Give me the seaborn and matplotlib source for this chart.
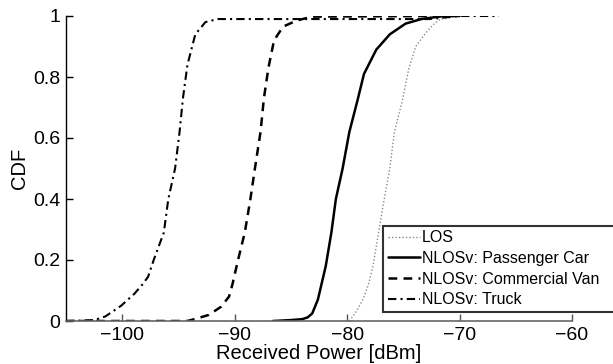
import matplotlib
matplotlib.use("Agg")
import matplotlib.pyplot as plt
import seaborn as sns
import pandas as pd

# ---- data ----
los_x = [-79.8, -79.2, -78.6, -78.1, -77.7, -77.2, -76.7, -76.2, -75.8, -75.1, -74.5, -73.9, -73.1, -72.4, -71.7, -70.8, -70.0]
los_y = [0.0, 0.03, 0.07, 0.12, 0.18, 0.29, 0.40, 0.50, 0.62, 0.72, 0.83, 0.90, 0.94, 0.97, 0.99, 0.995, 1.0]

car_x = [-86.6, -85.0, -84.0, -83.5, -83.1, -82.6, -81.9, -81.4, -81.0, -80.4, -79.8, -79.1, -78.5, -77.4, -76.2, -74.8, -73.4, -71.4, -70.0]
car_y = [0.0, 0.003, 0.006, 0.012, 0.025, 0.07, 0.18, 0.29, 0.40, 0.50, 0.62, 0.72, 0.81, 0.89, 0.94, 0.975, 0.99, 1.0, 1.0]

van_x = [-105.0, -94.2, -93.2, -92.3, -91.2, -90.5, -90.2, -89.7, -89.1, -88.6, -88.2, -87.7, -87.4, -87.0, -86.5, -85.7, -84.5, -83.1, -72.0]
van_y = [0.0, 0.0, 0.01, 0.02, 0.047, 0.08, 0.12, 0.20, 0.29, 0.40, 0.50, 0.62, 0.73, 0.83, 0.92, 0.965, 0.985, 0.998, 1.0]

truck_x = [-105.0, -102.5, -101.5, -100.1, -98.9, -98.2, -97.7, -97.2, -96.3, -95.9, -95.3, -94.9, -94.6, -94.2, -93.5, -92.6, -91.5, -72.7, -70.0, -66.5]
truck_y = [0.0, 0.003, 0.015, 0.05, 0.09, 0.12, 0.145, 0.20, 0.29, 0.40, 0.50, 0.62, 0.73, 0.84, 0.94, 0.98, 0.99, 0.99, 1.0, 1.0]

series_names = ["LOS", "NLOSv: Passenger Car", "NLOSv: Commercial Van", "NLOSv: Truck"]
x_ticks = [-100, -90, -80, -70, -60]
y_ticks = [0, 0.2, 0.4, 0.6, 0.8, 1]
y_tick_labels = ["0", "0.2", "0.4", "0.6", "0.8", "1"]

frames = []
for name, xs, ys in zip(series_names, [los_x, car_x, van_x, truck_x], [los_y, car_y, van_y, truck_y]):
    frames.append(pd.DataFrame({"power": xs, "cdf": ys, "series": name}))
df = pd.concat(frames, ignore_index=True)

sns.set_theme(style="white")
plt.rcParams["font.family"] = ["Liberation Sans", "DejaVu Sans"]

fig = plt.figure(figsize=(6.13, 3.64), dpi=100)
ax = fig.add_axes([66 / 613, 1 - 321 / 364, (572 - 66) / 613, (321 - 16) / 364])

styles = {
    "LOS": dict(color="#8a8a8a", lw=1.0, ls=(0, (1, 1.5))),
    "NLOSv: Passenger Car": dict(color="black", lw=1.8, ls="-"),
    "NLOSv: Commercial Van": dict(color="black", lw=1.8, ls=(0, (3.5, 2.5))),
    "NLOSv: Truck": dict(color="black", lw=1.5, ls=(0, (4, 2, 1, 2))),
}
for name in series_names:
    sub = df[df["series"] == name]
    st = styles[name]
    sns.lineplot(data=sub, x="power", y="cdf", ax=ax, estimator=None, sort=False,
                 color=st["color"], linewidth=st["lw"], linestyle=st["ls"], label=name)

ax.set_xlim(-105, -60)
ax.set_ylim(0, 1)
ax.set_xticks(x_ticks)
ax.set_xticklabels([f"\u2212{abs(t)}" for t in x_ticks])
ax.set_yticks(y_ticks)
ax.set_yticklabels(y_tick_labels)
ax.tick_params(bottom=True, left=True, top=False, right=False, direction="in",
               length=5, width=1, labelsize=14, pad=4, colors="black")
ax.tick_params(axis="x", color="#555555")
ax.set_xlabel("Received Power [dBm]", fontsize=14.5, labelpad=0, color="black")
ax.set_ylabel("CDF", fontsize=14.5, labelpad=3, color="black")
for s in ["top", "right"]:
    ax.spines[s].set_visible(False)
ax.spines["left"].set_color("black")
ax.spines["bottom"].set_color("#666666")
ax.spines["left"].set_linewidth(1.0)
ax.spines["bottom"].set_linewidth(1.2)

leg = ax.legend(loc="lower left", bbox_to_anchor=(383 / 613, 52 / 364, 245 / 613, 87 / 364),
                bbox_transform=fig.transFigure, mode="expand", fontsize=11.5, frameon=True,
                fancybox=False, handlelength=2.0, handletextpad=0.15,
                borderpad=0.3, labelspacing=0.35, borderaxespad=0)
leg.get_frame().set_edgecolor("black")
leg.get_frame().set_linewidth(1.5)
for t in leg.get_texts():
    t.set_color("black")

fig.savefig("out.png", dpi=100)
